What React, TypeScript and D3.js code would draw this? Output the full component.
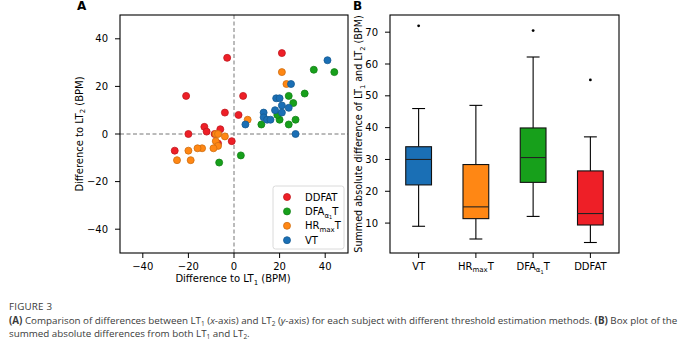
import React from 'react';
import * as d3 from 'd3';

// ---------- Panel A data (difference to LT1, difference to LT2) ----------
const ddfatX = [21, -3, -21, 4, -4, 2, -13, -12, -6, -20, -8.5, -1, -26, -7];
const ddfatY = [34, 32, 16, 16, 9, 8, 3, 1, 2, 0, 0, -3, -7, -4];
const dfaX = [35, 44, 31, 24, 26, 27, 24, 20, 19, 12, 3, -6.5];
const dfaY = [27, 26, 17, 16, 13, 6, 4, 6, 8, 4, -9, -12];
const hrX = [21, 23, 6, -8, -7, -4, -8, -7, -9, -14, -16, -20, -25, -19];
const hrY = [26, 21, 6, 0, 0, -1, -3, -5, -6, -6, -6, -7, -11, -11];
const vtX = [41, 25, 18.5, 20, 21, 24, 18, 21, 13, 13, 14.5, 16, 5, 27];
const vtY = [31, 21, 15, 15, 12, 11, 10, 9, 9, 7, 6, 6, 4, 0];

const axisTicksA = [-40, -20, 0, 20, 40];

// ---------- Panel B data (box plot stats) ----------
const boxCats = ['VT', 'HRmaxT', 'DFAa1T', 'DDFAT'];
const whiskerLow = [9, 5, 12.1, 3.9];
const q1 = [22, 11.4, 22.8, 9.4];
const median = [30, 15.1, 30.6, 13];
const q3 = [34, 28.4, 39.9, 26.4];
const whiskerHigh = [46, 47, 62.2, 37.1];
const outliers = [[72], [], [70.5], [55]];
const axisTicksB = [10, 20, 30, 40, 50, 60, 70];

const COLORS: Record<string, string> = {
  DDFAT: '#ee1f27',
  DFAa1T: '#17a01b',
  HRmaxT: '#ff8714',
  VT: '#1a6fb5',
};

const FONT = 'DejaVu Sans, sans-serif';
const CAP_FONT = 'Open Sans, sans-serif';

function Label({ name, x, y, size = 10, anchor = 'start' as any }) {
  if (name === 'HRmaxT') {
    return (
      <text x={x} y={y} fontSize={size} fontFamily={FONT} textAnchor={anchor}>
        HR<tspan fontSize={size * 0.7} dy={2.5}>max</tspan>
        <tspan dy={-2.5}>T</tspan>
      </text>
    );
  }
  if (name === 'DFAa1T') {
    return (
      <text x={x} y={y} fontSize={size} fontFamily={FONT} textAnchor={anchor}>
        DFA<tspan fontSize={size * 0.7} dy={2.5}>α</tspan>
        <tspan fontSize={size * 0.5} dy={1.5}>1</tspan>
        <tspan dy={-4}>T</tspan>
      </text>
    );
  }
  return (
    <text x={x} y={y} fontSize={size} fontFamily={FONT} textAnchor={anchor}>
      {name}
    </text>
  );
}

const fmt = (v: number) => (v < 0 ? '\u2212' + Math.abs(v) : String(v));

export default function App() {
  const xA = d3.scaleLinear().domain([-50, 50]).range([120, 348]);
  const yA = d3.scaleLinear().domain([-50, 50]).range([253, 15]);
  const xB = d3.scaleLinear().domain([0.5, 4.5]).range([390, 619]);
  const yB = d3.scaleLinear().domain([0.6, 75.4]).range([253, 15]);

  const series = [
    { name: 'DDFAT', xs: ddfatX, ys: ddfatY },
    { name: 'DFAa1T', xs: dfaX, ys: dfaY },
    { name: 'HRmaxT', xs: hrX, ys: hrY },
    { name: 'VT', xs: vtX, ys: vtY },
  ];

  const boxW = xB(1.45) - xB(1);
  const capW = boxW / 2;

  return (
    <svg
      width={690}
      height={345}
      style={{ position: 'absolute', left: 0, top: 0, background: '#fff' }}
    >
      <rect x={0} y={0} width={690} height={345} fill="#fff" />
      {/* Panel letters */}
      <text x={77} y={9.5} fontSize={12} fontWeight="bold" fontFamily={FONT}>A</text>
      <text x={353} y={9.5} fontSize={12} fontWeight="bold" fontFamily={FONT}>B</text>

      {/* ---------------- Panel A ---------------- */}
      <line x1={xA(-50)} x2={xA(50)} y1={yA(0)} y2={yA(0)} stroke="#777" strokeWidth={1} strokeDasharray="4,2.5" />
      <line x1={xA(0)} x2={xA(0)} y1={yA(-50)} y2={yA(50)} stroke="#777" strokeWidth={1} strokeDasharray="4,2.5" />
      {series.map((s) => (
        <g key={s.name}>
          {s.xs.map((xv, i) => (
            <circle
              key={i}
              cx={xA(xv)}
              cy={yA(s.ys[i])}
              r={3.5}
              fill={COLORS[s.name]}
              stroke={d3.color(COLORS[s.name])!.darker(0.6).toString()}
              strokeWidth={0.8}
            />
          ))}
        </g>
      ))}
      <rect x={120} y={15} width={228} height={238} fill="none" stroke="#000" strokeWidth={1.1} />
      {axisTicksA.map((t) => (
        <g key={'xa' + t}>
          <line x1={xA(t)} x2={xA(t)} y1={253} y2={258} stroke="#000" />
          <text x={xA(t)} y={269.5} fontSize={10} fontFamily={FONT} textAnchor="middle">{fmt(t)}</text>
        </g>
      ))}
      {axisTicksA.map((t) => (
        <g key={'ya' + t}>
          <line x1={115} x2={120} y1={yA(t)} y2={yA(t)} stroke="#000" />
          <text x={108} y={yA(t) + 3.6} fontSize={10} fontFamily={FONT} textAnchor="end">{fmt(t)}</text>
        </g>
      ))}
      <text x={233} y={282} fontSize={10} fontFamily={FONT} textAnchor="middle">
        Difference to LT<tspan fontSize={7} dy={2.5}>1</tspan><tspan dy={-2.5}> (BPM)</tspan>
      </text>
      <text transform={`translate(82.5,${yA(0)}) rotate(-90)`} fontSize={10} fontFamily={FONT} textAnchor="middle">
        Difference to LT<tspan fontSize={7} dy={2.5}>2</tspan><tspan dy={-2.5}> (BPM)</tspan>
      </text>

      {/* Legend */}
      <rect x={273} y={186} width={71} height={63} rx={2.5} fill="#fff" fillOpacity={0.85} stroke="#d0d0d0" strokeWidth={0.8} />
      {['DDFAT', 'DFAa1T', 'HRmaxT', 'VT'].map((n, i) => {
        const yy = 197 + i * 14.4;
        return (
          <g key={'lg' + n}>
            <circle cx={287} cy={yy} r={3.5} fill={COLORS[n]} stroke={d3.color(COLORS[n])!.darker(0.6).toString()} strokeWidth={0.8} />
            <Label name={n} x={305} y={yy + 3.6} />
          </g>
        );
      })}

      {/* ---------------- Panel B ---------------- */}
      {boxCats.map((c, i) => {
        const cx = xB(i + 1);
        return (
          <g key={'box' + c}>
            <line x1={cx} x2={cx} y1={yB(q3[i])} y2={yB(whiskerHigh[i])} stroke="#000" strokeWidth={1.1} />
            <line x1={cx} x2={cx} y1={yB(q1[i])} y2={yB(whiskerLow[i])} stroke="#000" strokeWidth={1.1} />
            <line x1={cx - capW / 2} x2={cx + capW / 2} y1={yB(whiskerHigh[i])} y2={yB(whiskerHigh[i])} stroke="#000" strokeWidth={1.1} />
            <line x1={cx - capW / 2} x2={cx + capW / 2} y1={yB(whiskerLow[i])} y2={yB(whiskerLow[i])} stroke="#000" strokeWidth={1.1} />
            <rect
              x={cx - boxW / 2}
              y={yB(q3[i])}
              width={boxW}
              height={yB(q1[i]) - yB(q3[i])}
              fill={COLORS[c]}
              stroke="#111"
              strokeWidth={1.1}
            />
            <line x1={cx - boxW / 2} x2={cx + boxW / 2} y1={yB(median[i])} y2={yB(median[i])} stroke="#222" strokeWidth={1.1} />
            {outliers[i].map((o, j) => (
              <circle key={j} cx={cx} cy={yB(o)} r={1.4} fill="#000" />
            ))}
            <line x1={cx} x2={cx} y1={253} y2={258} stroke="#000" />
            <Label name={c} x={cx} y={269.5} anchor="middle" />
          </g>
        );
      })}
      <rect x={390} y={15} width={229} height={238} fill="none" stroke="#000" strokeWidth={1.1} />
      {axisTicksB.map((t) => (
        <g key={'yb' + t}>
          <line x1={385} x2={390} y1={yB(t)} y2={yB(t)} stroke="#000" />
          <text x={378} y={yB(t) + 3.6} fontSize={10} fontFamily={FONT} textAnchor="end">{t}</text>
        </g>
      ))}
      <text transform="translate(362,134) rotate(-90)" fontSize={9.6} fontFamily={FONT} textAnchor="middle">
        Summed absolute difference of LT<tspan fontSize={6.7} dy={2.5}>1</tspan>
        <tspan dy={-2.5}> and LT</tspan><tspan fontSize={6.7} dy={2.5}>2</tspan>
        <tspan dy={-2.5}> (BPM)</tspan>
      </text>

      {/* ---------------- Caption ---------------- */}
      <text x={9} y={309.5} fontSize={9.8} fontFamily={CAP_FONT} fill="#3a3a3a" letterSpacing={0.2}>FIGURE 3</text>
      <text x={9} y={323.5} fontSize={9.8} fontFamily={CAP_FONT} fill="#3a3a3a">
        <tspan fontWeight="bold">(A)</tspan> Comparison of differences between LT<tspan fontSize={6.5} dy={2}>1</tspan>
        <tspan dy={-2}> (</tspan><tspan fontStyle="italic">x</tspan>-axis) and LT<tspan fontSize={6.5} dy={2}>2</tspan>
        <tspan dy={-2}> (</tspan><tspan fontStyle="italic">y</tspan>-axis) for each subject with different threshold estimation methods. <tspan fontWeight="bold">(B)</tspan> Box plot of the
      </text>
      <text x={9} y={337} fontSize={9.8} fontFamily={CAP_FONT} fill="#3a3a3a">
        summed absolute differences from both LT<tspan fontSize={6.5} dy={2}>1</tspan>
        <tspan dy={-2}> and LT</tspan><tspan fontSize={6.5} dy={2}>2</tspan><tspan dy={-2}>.</tspan>
      </text>
    </svg>
  );
}
